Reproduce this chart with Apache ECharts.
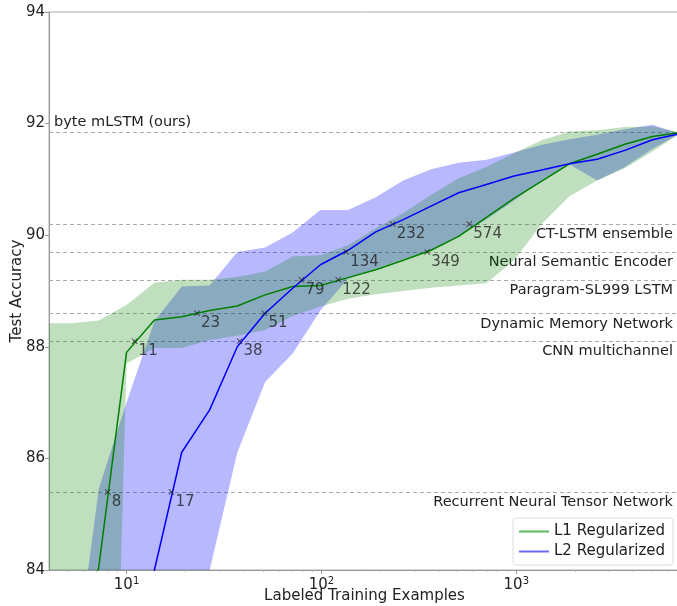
<!DOCTYPE html>
<html>
<head>
<meta charset="utf-8">
<title>Test Accuracy vs Labeled Training Examples</title>
<script src="https://cdn.jsdelivr.net/npm/echarts@6/dist/echarts.min.js"></script>
</head>
<body style="margin:0">
<div id="main" style="width:677px;height:606px;"></div>
<script>
// number of labeled examples (log-spaced sample points)
var xs = [3.75, 5.2, 7.2, 10, 13.9, 19.2, 26.7, 37, 51.4, 71.2, 98.8, 137, 190, 263, 365, 506, 702, 974, 1351, 1874, 2599, 3605, 5000, 6920];

// L1 regularized: mean and band
var l1Mean  = [80.0, 82.0, 84.05, 87.9, 88.48, 88.54, 88.65, 88.73, 88.93, 89.08, 89.1, 89.24, 89.38, 89.55, 89.73, 89.98, 90.32, 90.66, 90.97, 91.28, 91.45, 91.63, 91.77, 91.84];
var l1Upper = [88.42, 88.42, 88.47, 88.75, 89.15, 89.2, 89.2, 89.25, 89.35, 89.62, 89.64, 89.82, 90.12, 90.4, 90.72, 91.02, 91.22, 91.47, 91.7, 91.86, 91.88, 91.94, 91.95, 91.84];
var l1Lower = [60, 65, 70, 87.7, 87.98, 87.98, 88.12, 88.2, 88.3, 88.55, 88.72, 88.86, 88.94, 89.0, 89.06, 89.1, 89.14, 89.55, 90.2, 90.7, 90.98, 91.2, 91.5, 91.82];

// L2 regularized: mean and band
var l2Mean  = [76, 78, 80, 81.9, 84.0, 86.11, 86.87, 88.0, 88.6, 89.05, 89.47, 89.73, 90.06, 90.28, 90.52, 90.76, 90.91, 91.06, 91.17, 91.28, 91.36, 91.52, 91.71, 91.82];
var l2Upper = [78, 81.7, 85.45, 87.0, 88.46, 89.08, 89.1, 89.7, 89.78, 90.05, 90.45, 90.45, 90.68, 90.98, 91.18, 91.3, 91.35, 91.48, 91.62, 91.72, 91.8, 91.9, 91.98, 91.82];
var l2Lower = [70, 72, 74, 76, 78, 80.5, 84.0, 86.1, 87.37, 87.88, 88.65, 89.22, 89.4, 89.57, 89.73, 89.98, 90.28, 90.62, 90.98, 91.27, 90.98, 91.22, 91.55, 91.82];

// points where each curve reaches a baseline
var l1Marks = [[8, 85.4], [11, 88.1], [23, 88.6], [122, 89.2], [349, 89.7], [574, 90.2]];
var l2Marks = [[17, 85.4], [38, 88.1], [51, 88.6], [79, 89.2], [134, 89.7], [232, 90.2]];

// baselines
var refNames  = ['byte mLSTM (ours)', 'CT-LSTM ensemble', 'Neural Semantic Encoder', 'Paragram-SL999 LSTM', 'Dynamic Memory Network', 'CNN multichannel', 'Recurrent Neural Tensor Network'];
var refValues = [91.84, 90.2, 89.7, 89.2, 88.6, 88.1, 85.4];

// x axis ticks
var majorTicks = [10, 100, 1000];
var minorTicks = [5, 6, 7, 8, 9, 20, 30, 40, 50, 60, 70, 80, 90, 200, 300, 400, 500, 600, 700, 800, 900, 2000, 3000, 4000, 5000, 6000];

var FONT = 'DejaVu Sans';
var xMark = 'path://M0,1L1,0L5,4L9,0L10,1L6,5L10,9L9,10L5,6L1,10L0,9L4,5Z';

var myChart = echarts.init(document.getElementById('main'));

function pairs(arr) {
    return xs.map(function (x, i) { return [x, arr[i]]; });
}

// shaded band between lower and upper, drawn as one polygon
function bandSeries(lower, upper, color) {
    return {
        type: 'custom',
        silent: true,
        data: xs.map(function (x, i) { return [x, lower[i], upper[i]]; }),
        encode: {x: 0, y: [1, 2]},
        renderItem: function (params, api) {
            if (params.dataIndex !== 0) return;
            var top = [], bottom = [];
            for (var i = 0; i < xs.length; i++) {
                top.push(api.coord([xs[i], upper[i]]));
                bottom.unshift(api.coord([xs[i], lower[i]]));
            }
            var cs = params.coordSys;
            return {
                type: 'polygon',
                shape: {points: top.concat(bottom)},
                style: {fill: color},
                clipPath: {type: 'rect', shape: {x: cs.x, y: cs.y, width: cs.width, height: cs.height}}
            };
        }
    };
}

function markSeries(data) {
    return {
        type: 'scatter',
        data: data,
        symbol: xMark,
        symbolSize: 6,
        itemStyle: {color: '#222'},
        z: 5,
        label: {
            show: true,
            position: 'right',
            distance: 1,
            offset: [0, 10],
            color: '#222',
            fontSize: 15,
            fontFamily: FONT,
            formatter: function (p) { return p.value[0]; }
        }
    };
}

var option = {
    animation: false,
    backgroundColor: '#fff',
    grid: {
        left: 49, right: -3, top: 12, bottom: 36,
        outerBoundsMode: 'none',
        show: true, borderColor: '#aaa', borderWidth: 1
    },
    legend: {
        orient: 'vertical',
        right: 4,
        bottom: 41,
        icon: 'rect',
        itemWidth: 30,
        itemHeight: 2,
        itemGap: 5,
        padding: [6, 8, 6, 6],
        borderColor: '#ddd',
        borderWidth: 1,
        borderRadius: 3,
        backgroundColor: '#fff',
        textStyle: {fontSize: 15, color: '#222', fontFamily: FONT},
        data: [
            {name: 'L1 Regularized', itemStyle: {color: '#5cb85c'}},
            {name: 'L2 Regularized', itemStyle: {color: '#6b6bf0'}}
        ]
    },
    xAxis: [{
        type: 'log',
        logBase: 10,
        min: 4,
        max: 6920,
        axisLine: {lineStyle: {color: '#999'}},
        axisTick: {customValues: majorTicks, length: 4, lineStyle: {color: '#999'}},
        axisLabel: {
            customValues: majorTicks,
            margin: 6,
            formatter: function (v) { return '{b|10}{s|' + Math.round(Math.log10(v)) + '}'; },
            rich: {
                b: {fontSize: 15, color: '#222', fontFamily: FONT, lineHeight: 18},
                s: {fontSize: 10, color: '#222', fontFamily: FONT, verticalAlign: 'top', lineHeight: 10}
            }
        },
        splitLine: {show: false},
        name: 'Labeled Training Examples',
        nameLocation: 'middle',
        nameGap: 19,
        nameMoveOverlap: false,
        nameTextStyle: {fontSize: 15, color: '#222', fontFamily: FONT}
    }, {
        type: 'log',
        logBase: 10,
        min: 4,
        max: 6920,
        position: 'bottom',
        axisLine: {show: false},
        axisTick: {customValues: minorTicks, length: 2, lineStyle: {color: '#aaa'}},
        axisLabel: {show: false},
        splitLine: {show: false}
    }],
    yAxis: {
        type: 'value',
        min: 84,
        max: 94,
        interval: 2,
        axisLine: {show: true, lineStyle: {color: '#999'}},
        axisTick: {show: true, length: 4, lineStyle: {color: '#999'}},
        axisLabel: {fontSize: 15, color: '#222', fontFamily: FONT, margin: 4},
        splitLine: {show: false},
        name: 'Test Accuracy',
        nameLocation: 'middle',
        nameGap: 24,
        nameMoveOverlap: false,
        nameTextStyle: {fontSize: 15, color: '#222', fontFamily: FONT}
    },
    series: [
        bandSeries(l2Lower, l2Upper, 'rgba(0,0,255,0.28)'),
        bandSeries(l1Lower, l1Upper, 'rgba(0,128,0,0.25)'),
        {
            name: 'L1 Regularized',
            type: 'line',
            data: pairs(l1Mean),
            symbol: 'none',
            lineStyle: {color: '#008000', width: 1.5},
            itemStyle: {color: '#008000'},
            z: 3,
            markLine: {
                symbol: ['none', 'none'],
                silent: true,
                z: 1,
                lineStyle: {type: [4, 3], color: '#aaa', width: 1},
                label: {color: '#222', fontSize: 14.5, fontFamily: FONT, formatter: '{b}', distance: 3, padding: [0, 4, 0, 2]},
                data: refValues.map(function (v, i) {
                    return {
                        yAxis: v,
                        name: refNames[i],
                        label: {position: i === 0 ? 'insideStartTop' : 'insideEndBottom'}
                    };
                })
            }
        }, {
            name: 'L2 Regularized',
            type: 'line',
            data: pairs(l2Mean),
            symbol: 'none',
            lineStyle: {color: '#0000ff', width: 1.5},
            itemStyle: {color: '#0000ff'},
            z: 3
        },
        markSeries(l1Marks),
        markSeries(l2Marks)
    ]
};

myChart.setOption(option);
</script>
</body>
</html>
